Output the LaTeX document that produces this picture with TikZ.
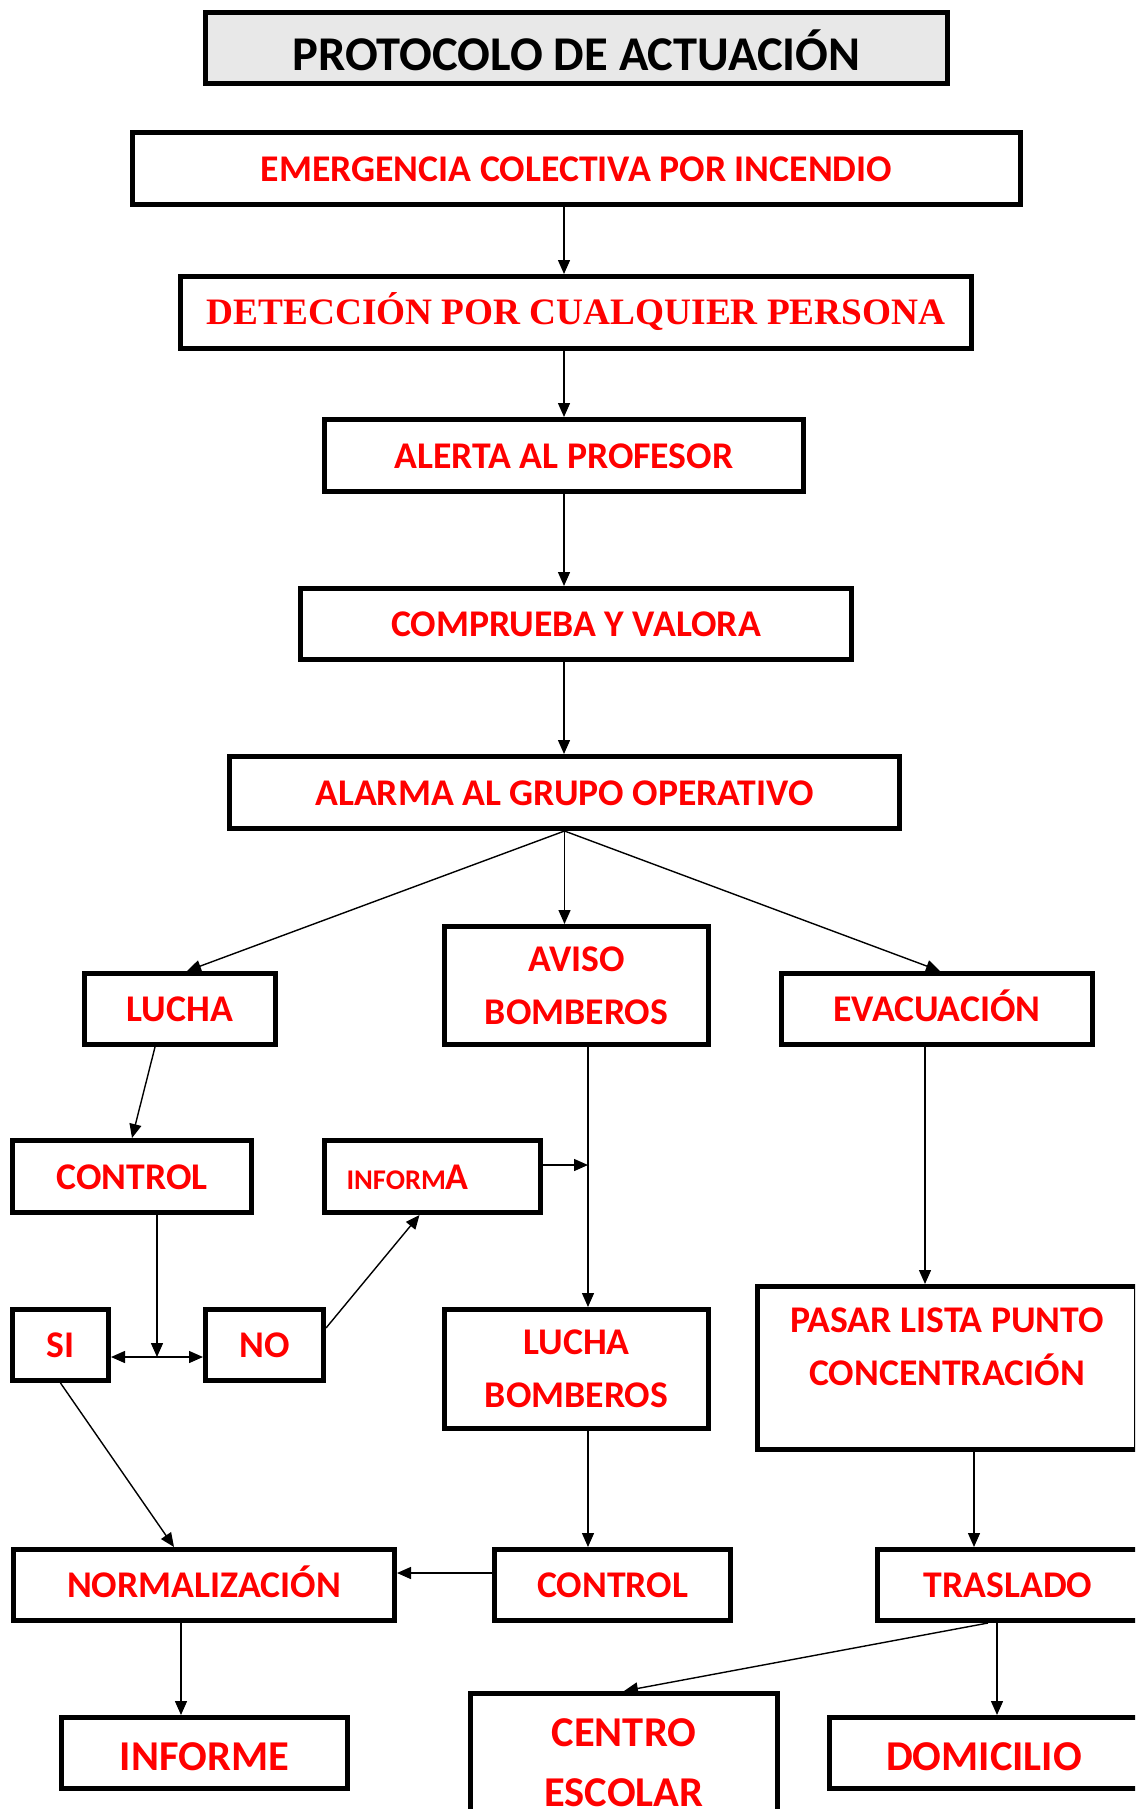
\documentclass[tikz,border=0pt]{standalone}
\usepackage{fontspec}
\setmainfont{Carlito}
\newfontfamily\serifbold{Liberation Serif}
\usepackage{tikz}
\usetikzlibrary{arrows.meta}
\definecolor{rojo}{RGB}{255,0,0}
\definecolor{grisclaro}{RGB}{232,232,232}
\tikzset{
  caja/.style={ draw, rectangle, line width=5pt, inner sep=0pt, text=rojo, font=\bfseries\fontsize{37.7}{53}\selectfont }
}
\tikzset{
  una/.style={ text height=25.5pt, text depth=0pt }
}
\tikzset{
  grande/.style={ font=\bfseries\fontsize{42.5}{60}\selectfont, text height=35pt, text depth=0pt }
}
\tikzset{
  tam/.style 2 args={ minimum width=#1pt, minimum height=#2pt }
}
\tikzset{
  flecha/.style={ -{Triangle[length=14pt, width=12pt]}, line width=1.4pt }
}

\begin{document}
\begin{tikzpicture}[x=1pt, y=-1pt]
      \path[use as bounding box, fill=white] (0,0) rectangle (1135,1809);
      \clip (0,0) rectangle (1135,1809);

      \node[caja, fill=grisclaro, text=black, font=\bfseries\fontsize{48.5}{56}\selectfont, text height=46pt, text depth=0pt, tam={742}{71}] (titulo) at (576.5, 48) {PROTOCOLO DE ACTUACIÓN};

      \node[caja, una, tam={888}{72}] (emergencia) at (576.5, 168.5) {EMERGENCIA COLECTIVA POR INCENDIO};
      \node[caja, tam={791}{72}, font=\serifbold\bfseries\fontsize{37.3}{53}\selectfont, text height=24.7pt, text depth=0pt] (deteccion) at (576, 312.5) {DETECCIÓN POR CUALQUIER PERSONA};
      \node[caja, una, tam={479}{72}] (alerta) at (564, 455.5) {ALERTA AL PROFESOR};
      \node[caja, una, tam={551}{71}] (comprueba) at (576, 624) {COMPRUEBA Y VALORA};
      \node[caja, una, tam={670}{72}] (alarma) at (564.5, 792.5) {ALARMA AL GRUPO OPERATIVO};
      \draw[flecha] (emergencia.south -| alerta) -- (deteccion.north -| alerta);
      \draw[flecha] (deteccion.south -| alerta) -- (alerta.north);
      \draw[flecha] (alerta.south) -- (comprueba.north -| alerta);
      \draw[flecha] (comprueba.south -| alerta) -- (alarma.north -| alerta);

      \node[caja, una, tam={191}{71}] (lucha) at (180, 1009) {LUCHA};
      \node[caja, align=center, tam={264}{118}] (aviso) at (576.5, 985.5) {AVISO\\BOMBEROS};
      \node[caja, una, tam={311}{71}] (evacuacion) at (937, 1009) {EVACUACIÓN};
      \draw[flecha] (alarma.south) -- ([xshift=7pt]lucha.north);
      \draw[flecha] (alarma.south) -- (alarma.south |- aviso.north);
      \draw[flecha] (alarma.south) -- ([xshift=3pt]evacuacion.north);

      \node[caja, una, tam={239}{72}] (control) at (132, 1176.5) {CONTROL};
      \node[caja, una, tam={216}{72}, text width=172pt, align=left] (informa) at (432.5, 1176.5) {{\fontsize{28.5}{34}\selectfont INFORM}A};
      \node[caja, una, tam={96}{71}] (si) at (60.5, 1345) {SI};
      \node[caja, una, tam={118}{71}] (no) at (264.5, 1345) {NO};
      \coordinate (bajada) at ([xshift=11.5pt]aviso.south);
      \coordinate (reparto) at (157, 1357);
      \draw[flecha] ([xshift=-25pt]lucha.south) -- (control.north);
      \draw[flecha] (control.south -| reparto) -- (reparto);
      \draw[flecha] (reparto) -- (reparto -| si.east);
      \draw[flecha] (reparto) -- (reparto -| no.west);
      \draw[flecha] ([yshift=17pt]no.east) -- ([xshift=-13pt]informa.south);
      \draw[flecha] ([yshift=11.5pt]informa.east) -- ([yshift=11.5pt]informa.east -| bajada);

      \node[caja, align=center, tam={264}{119}] (luchabomberos) at (576.5, 1369) {LUCHA\\BOMBEROS};
      \node[caja, align=center, tam={379}{163}] (pasarlista) at (947, 1368) {PASAR LISTA PUNTO\\CONCENTRACIÓN\\[-10pt]\mbox{}};
      \draw[flecha] (bajada) -- (luchabomberos.north -| bajada);
      \draw[flecha] ([xshift=-12pt]evacuacion.south) -- ([xshift=-12pt]evacuacion.south |- pasarlista.north);

      \node[caja, una, tam={381}{71}] (normalizacion) at (204, 1585) {NORMALIZACIÓN};
      \node[caja, una, tam={236}{71}] (control2) at (612.5, 1585) {CONTROL};
      \node[caja, una, tam={261}{71}] (traslado) at (1008, 1585) {TRASLADO};
      \draw[flecha] (si.south) -- ([xshift=-30pt]normalizacion.north);
      \draw[flecha] (luchabomberos.south -| bajada) -- (control2.north -| bajada);
      \draw[flecha] ([yshift=12pt]control2.west) -- ([yshift=12pt]control2.west -| normalizacion.east);
      \draw[flecha] ([xshift=27pt]pasarlista.south) -- ([xshift=27pt]pasarlista.south |- traslado.north);

      \node[caja, grande, tam={286}{71}] (informe) at (204.5, 1753) {INFORME};
      \node[caja, grande, align=center, anchor=north, tam={307}{138}, text height=, text depth=] (centro) at (624, 1691) {CENTRO\\ESCOLAR};
      \node[caja, grande, tam={309}{71}] (domicilio) at (984, 1753) {DOMICILIO};
      \draw[flecha] ([xshift=-23pt]normalizacion.south) -- ([xshift=-23pt]normalizacion.south |- informe.north);
      \draw[flecha] ([xshift=-20pt]traslado.south) -- (centro.north);
      \draw[flecha] ([xshift=-11pt]traslado.south) -- ([xshift=-11pt]traslado.south |- domicilio.north);
\end{tikzpicture}
\end{document}
